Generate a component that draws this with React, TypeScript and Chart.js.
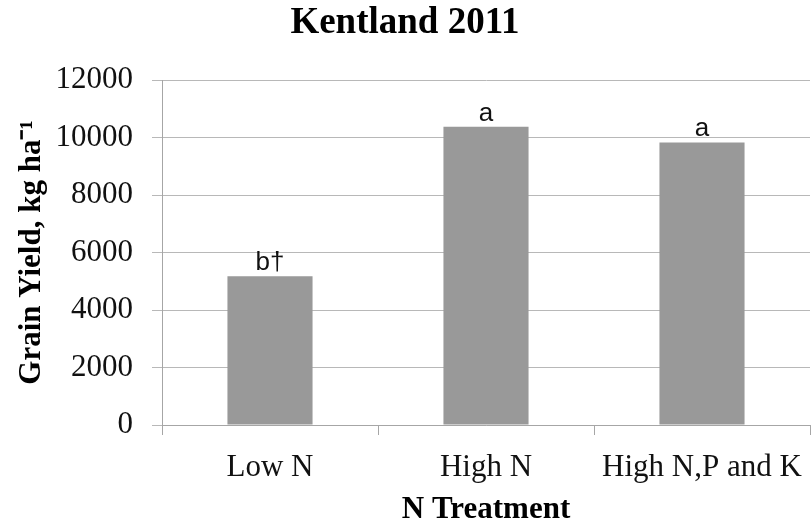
import React, { useEffect, useRef } from 'react';
import { Chart, registerables } from 'chart.js';

Chart.register(...registerables);

const categories = ['Low N', 'High N', 'High N,P and K'];
const grainYield = [5170, 10370, 9830];
const letters = ['b†', 'a', 'a'];
const yTicks = [0, 2000, 4000, 6000, 8000, 10000, 12000];

const serif = "'Liberation Serif', 'Times New Roman', serif";

export default function App() {
  const ref = useRef<HTMLCanvasElement>(null);

  useEffect(() => {
    document.body.style.margin = '0';
    const letterPlugin = {
      id: 'letters',
      afterDatasetsDraw(chart: any) {
        const meta = chart.getDatasetMeta(0);
        const ctx = chart.ctx;
        ctx.save();
        ctx.font = "26px 'Liberation Sans Narrow', 'Liberation Sans', sans-serif";
        ctx.fillStyle = '#111';
        ctx.textAlign = 'center';
        ctx.textBaseline = 'alphabetic';
        meta.data.forEach((bar: any, i: number) => {
          ctx.fillText(letters[i], bar.x, bar.y - 6);
        });
        ctx.restore();
      },
    };

    const chart = new Chart(ref.current as HTMLCanvasElement, {
      type: 'bar',
      data: {
        labels: categories,
        datasets: [
          {
            data: grainYield,
            backgroundColor: '#999999',
            borderWidth: 0,
            barPercentage: 0.394,
            categoryPercentage: 1,
          },
        ],
      },
      plugins: [letterPlugin],
      options: {
        animation: false,
        responsive: false,
        layout: { padding: { left: 0, right: 1, top: 0, bottom: 0 } },
        plugins: {
          legend: { display: false },
          tooltip: { enabled: false },
          title: {
            display: true,
            text: 'Kentland 2011',
            color: '#000',
            font: { family: serif, size: 37, weight: 'bold', lineHeight: 1.2 },
            padding: { top: 1, bottom: 34.6 },
          },
        },
        scales: {
          x: {
            grid: {
              offset: true,
              drawOnChartArea: false,
              drawTicks: true,
              tickLength: 10,
              color: '#a6a6a6',
            },
            border: { color: '#a6a6a6' },
            ticks: {
              font: { family: serif, size: 31 },
              color: '#111',
              padding: 14,
              maxRotation: 0,
              autoSkip: false,
            },
            title: {
              display: true,
              text: 'N Treatment',
              color: '#000',
              font: { family: serif, size: 31, weight: 'bold', lineHeight: 1 },
              padding: 0,
            },
            afterFit: (s: any) => {
              s.height = 100;
              s.paddingLeft = 0;
              s.paddingRight = 0;
            },
          },
          y: {
            min: 0,
            max: 12000,
            afterBuildTicks: (s: any) => {
              s.ticks = yTicks.map((v) => ({ value: v }));
            },
            ticks: {
              font: { family: serif, size: 31 },
              color: '#111',
              padding: 19,
              callback: (v: any) => String(v),
            },
            grid: { color: '#b8b8b8', tickLength: 10 },
            border: { color: '#a6a6a6' },
            title: {
              display: true,
              text: 'Grain Yield, kg ha⁻¹',
              color: '#000',
              font: { family: serif, size: 31, weight: 'bold', lineHeight: 1 },
              padding: { top: 16, bottom: 0 },
            },
            afterFit: (s: any) => {
              s.width = 162;
            },
          },
        },
      },
    } as any);

    return () => chart.destroy();
  }, []);

  return (
    <div style={{ position: 'absolute', left: 0, top: 0, width: 811, height: 525 }}>
      <canvas ref={ref} width={811} height={525} />
    </div>
  );
}
